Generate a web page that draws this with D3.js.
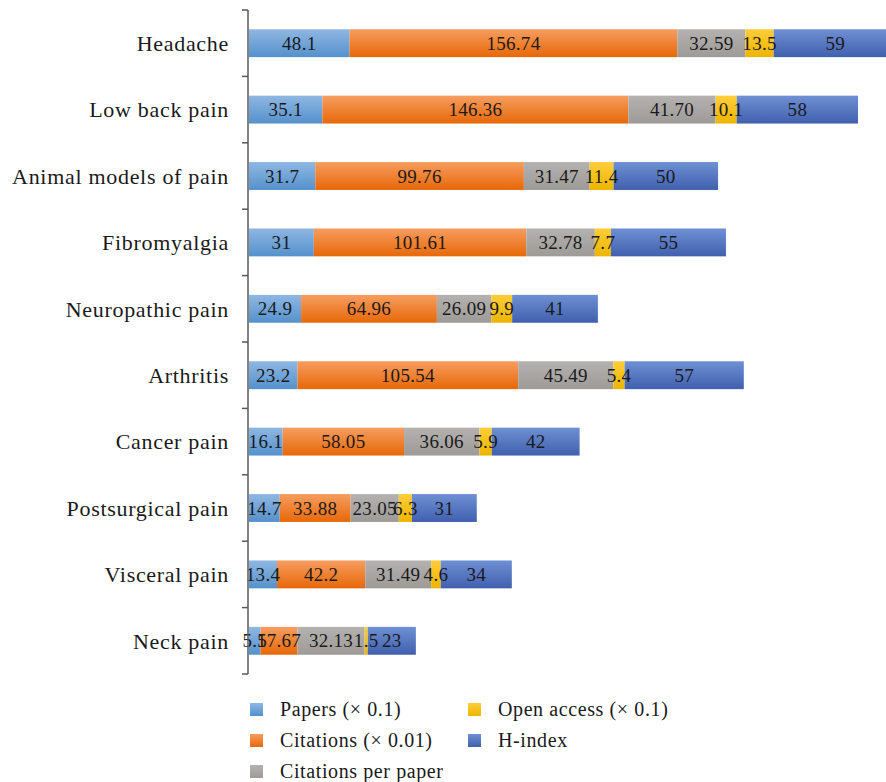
<!DOCTYPE html>
<html><head><meta charset="utf-8">
<script src="https://cdn.jsdelivr.net/npm/d3@7"></script>
<style>body{margin:0;background:#fff;} svg{display:block;}</style>
</head><body>
<svg id="chart" width="886" height="782"></svg>
<script>
const categories = ["Headache","Low back pain","Animal models of pain","Fibromyalgia ","Neuropathic pain","Arthritis","Cancer pain","Postsurgical pain","Visceral pain","Neck pain"];
const papers = [48.1,35.1,31.7,31,24.9,23.2,16.1,14.7,13.4,5.5];
const citations = [156.74,146.36,99.76,101.61,64.96,105.54,58.05,33.88,42.2,17.67];
const citationsPerPaper = [32.59,41.70,31.47,32.78,26.09,45.49,36.06,23.05,31.49,32.13];
const openAccess = [13.5,10.1,11.4,7.7,9.9,5.4,5.9,6.3,4.6,1.5];
const hIndex = [59,58,50,55,41,57,42,31,34,23];
const seriesNames = ["Papers (× 0.1)","Citations (× 0.01)","Citations per paper","Open access (× 0.1)","H-index"];

const seriesData = [papers,citations,citationsPerPaper,openAccess,hIndex];
const formats = [d3.format(""),d3.format(""),d3.format(".2f"),d3.format(""),d3.format("")];
const colors = [["#8FB7E2","#5591CC"],["#F69D60","#E76808"],["#B4B2B0","#9D9A97"],["#FFCD3A","#EDB500"],["#6F90D3","#4060AE"]];
const FONT = "Liberation Serif, serif";

const svg = d3.select("#chart");
const defs = svg.append("defs");
colors.forEach((c,i)=>{
  const g = defs.append("linearGradient").attr("id","g"+i).attr("x1",0).attr("y1",0).attr("x2",0).attr("y2",1);
  g.append("stop").attr("offset","0%").attr("stop-color",c[0]);
  g.append("stop").attr("offset","100%").attr("stop-color",c[1]);
});

const x = d3.scaleLinear().domain([0,300]).range([249, 249+627.3]);
const y = d3.scaleBand().domain(categories).range([10,674]).paddingInner(0.58).paddingOuter(0.29);

const rows = categories.map((c,i)=>{
  let acc = 0;
  return seriesData.map((s,j)=>{ const v=s[i]; const r={cat:c,j,v,x0:acc,x1:acc+v}; acc+=v; return r;});
});

const g = svg.append("g");
rows.forEach(row=>{
  g.selectAll(null).data(row).enter().append("rect")
    .attr("x",d=>x(d.x0)).attr("width",d=>x(d.x1)-x(d.x0))
    .attr("y",d=>y(d.cat)).attr("height",y.bandwidth())
    .attr("fill",d=>"url(#g"+d.j+")");
});
rows.forEach(row=>{
  g.selectAll(null).data(row).enter().append("text")
    .attr("x",d=>(x(d.x0)+x(d.x1))/2).attr("y",d=>y(d.cat)+y.bandwidth()/2)
    .attr("dy","0.35em").attr("text-anchor","middle")
    .attr("font-family",FONT).attr("font-size",19).attr("letter-spacing",0.3).attr("fill","#1a1a1a")
    .text(d=>formats[d.j](d.v));
});

// axis
const axisG = svg.append("g");
axisG.append("line").attr("x1",248).attr("x2",248).attr("y1",10).attr("y2",674).attr("stroke","#595959").attr("stroke-width",1.5);
const tickYs = [10].concat(categories.map(c=>y(c)+y.bandwidth()/2 + y.step()/2));
axisG.selectAll(null).data(tickYs).enter().append("line")
  .attr("x1",242).attr("x2",248).attr("y1",d=>d).attr("y2",d=>d).attr("stroke","#595959").attr("stroke-width",1.5);
axisG.selectAll(null).data(categories).enter().append("text")
  .attr("x",229).attr("y",d=>y(d)+y.bandwidth()/2).attr("dy","0.35em").attr("text-anchor","end")
  .attr("font-family",FONT).attr("font-size",22).attr("letter-spacing",0.7).attr("fill","#1a1a1a")
  .text(d=>d);

// legend
const legendPos = [[250,709],[250,740],[250,771],[468,709],[468,740]];
const lg = svg.append("g");
seriesNames.forEach((n,i)=>{
  const [lx,ly] = legendPos[i];
  lg.append("rect").attr("x",lx).attr("y",ly-6).attr("width",13).attr("height",13).attr("fill","url(#g"+i+")");
  lg.append("text").attr("x",lx+30).attr("y",ly).attr("dy","0.35em")
    .attr("font-family",FONT).attr("font-size",20).attr("letter-spacing",0.6).attr("fill","#1a1a1a").text(n);
});
</script>
</body></html>
